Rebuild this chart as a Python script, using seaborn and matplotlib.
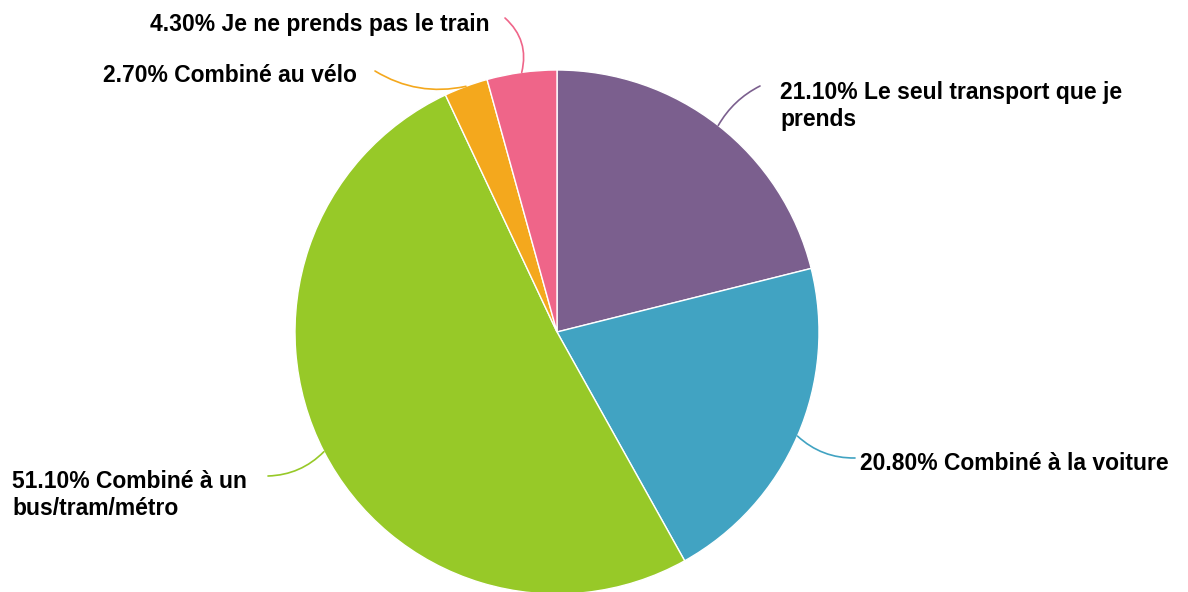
import numpy as np
import matplotlib.pyplot as plt
import seaborn as sns

labels = ["Le seul transport que je\nprends", "Combiné à la voiture",
          "Combiné à un\nbus/tram/métro", "Combiné au vélo",
          "Je ne prends pas le train"]
values = [21.1, 20.8, 51.1, 2.7, 4.3]
colors = ["#7b5f8e", "#41a3c2", "#97c928", "#f4a81d", "#ef6589"]

# label position (pixels from top-left) and end point of each leader line
text_pos = [(780, 106), (860, 464), (12, 495), (103, 76), (150, 24)]
line_end = [(760, 86), (855, 458), (268, 476), (375, 71), (505, 18)]
rads = [0.15, -0.2, 0.2, 0.2, -0.3]

sns.set_theme(style="white")
plt.rcParams["font.family"] = ["Liberation Sans", "DejaVu Sans"]

W, H = 1188, 592
fig = plt.figure(figsize=(W / 100, H / 100), dpi=100)
ax = fig.add_axes([0, 0, 1, 1])

cx, cy, r = 557, H - 332, 262
wedges, _ = ax.pie(values, colors=colors, startangle=90, counterclock=False,
                   center=(cx, cy), radius=r, frame=True,
                   wedgeprops=dict(edgecolor="white", linewidth=1))
ax.set_xlim(0, W)
ax.set_ylim(0, H)
ax.set_aspect("equal")
ax.axis("off")

for w, v, lab, tp, le, rad, c in zip(wedges, values, labels, text_pos,
                                     line_end, rads, colors):
    ang = np.deg2rad((w.theta1 + w.theta2) / 2)
    start = (cx + r * np.cos(ang), cy + r * np.sin(ang))
    ax.annotate("", xy=start, xytext=(le[0], H - le[1]),
                arrowprops=dict(arrowstyle="-", color=c, lw=1.2,
                                shrinkA=0, shrinkB=0,
                                connectionstyle=f"arc3,rad={rad}"))
    ax.text(tp[0], H - tp[1], f"{v:.2f}% {lab}", ha="left", va="center",
            fontsize=16.5, fontweight="bold", color="black", linespacing=1.25)

fig.savefig("out.png", dpi=100)
